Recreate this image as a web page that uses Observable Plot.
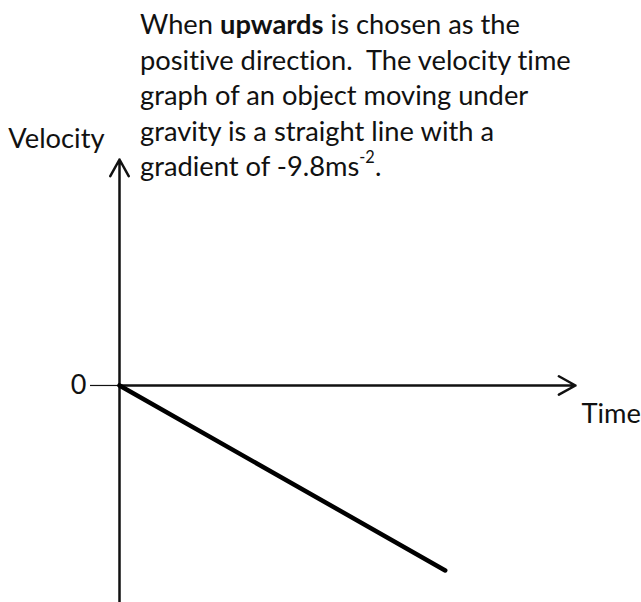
<!DOCTYPE html>
<html>
<head>
<meta charset="utf-8">
<script src="https://cdn.jsdelivr.net/npm/d3@7"></script>
<script src="https://cdn.jsdelivr.net/npm/@observablehq/plot@0.6"></script>
<style>
  html, body { margin: 0; padding: 0; background: #fff; }
  #wrap { position: relative; width: 641px; height: 602px; }
  #note {
    position: absolute; left: 140px; top: 0px;
    font-family: Lato, "Open Sans", sans-serif; font-size: 27.3px;
    font-variant-ligatures: none;
    line-height: 35.5px; color: #111; white-space: pre;
  }
  #note .line { height: 35.5px; }
  #note sup { font-size: 0.6em; position: relative; top: -0.15em; line-height: 0; vertical-align: super; }
  svg { display: block; }
</style>
</head>
<body>
<div id="wrap">
  <div id="chart"></div>
  <div id="note"><div class="line" style="margin-top:6px">When <b>upwards</b> is chosen as the</div><div class="line">positive direction.  The velocity time</div><div class="line">graph of an object moving under</div><div class="line">gravity is a straight line with a</div><div class="line">gradient of -9.8ms<sup>-2</sup>.</div></div>
</div>
<script>
// Velocity–time line for an object in free fall (upwards positive)
const times = [0, 4];            // s
const velocities = [0, -39.2];   // m/s, gradient -9.8 m/s²

// Axis extents
const timeDomain = [0, 5.6];
const velocityDomain = [-46, 47.9];
const zeroTicks = [0];

const axisFont = "Lato, 'Open Sans', sans-serif";

const chart = Plot.plot({
  width: 641,
  height: 602,
  marginLeft: 119,
  marginRight: 66,
  marginTop: 159,
  marginBottom: 0,
  x: { domain: timeDomain, axis: null },
  y: { domain: velocityDomain, axis: null },
  style: { fontFamily: axisFont, background: "transparent" },
  marks: [
    // zero tick on the velocity axis
    Plot.axisY({
      ticks: zeroTicks, tickSize: 29, tickPadding: 4, label: null,
      tickFormat: d => String(d), fontSize: 27, stroke: "#111", strokeWidth: 1.2, fill: "#111"
    }),
    // time axis
    Plot.arrow([0], {
      x1: timeDomain[0], y1: 0, x2: timeDomain[1], y2: 0,
      stroke: "#111", strokeWidth: 2.5, headLength: 11.4, headAngle: 58
    }),
    // velocity axis
    Plot.arrow([0], {
      x1: 0, y1: velocityDomain[0], x2: 0, y2: velocityDomain[1],
      stroke: "#111", strokeWidth: 2.5, headLength: 11.4, headAngle: 58
    }),
    // velocity line
    Plot.line(times.map((t, i) => ({t, v: velocities[i]})), {
      x: "t", y: "v", stroke: "#000", strokeWidth: 4.5
    }),
    // axis labels
    Plot.text(["Time"], {
      x: timeDomain[1], y: 0, text: d => d, textAnchor: "start",
      dx: 6, dy: 29, fontSize: 27.3, fill: "#111"
    }),
    Plot.text(["Velocity"], {
      x: 0, y: velocityDomain[1], text: d => d, textAnchor: "end",
      dx: -15, dy: -20, fontSize: 27.3, fill: "#111"
    })
  ]
});
document.getElementById("chart").appendChild(chart);
</script>
</body>
</html>
